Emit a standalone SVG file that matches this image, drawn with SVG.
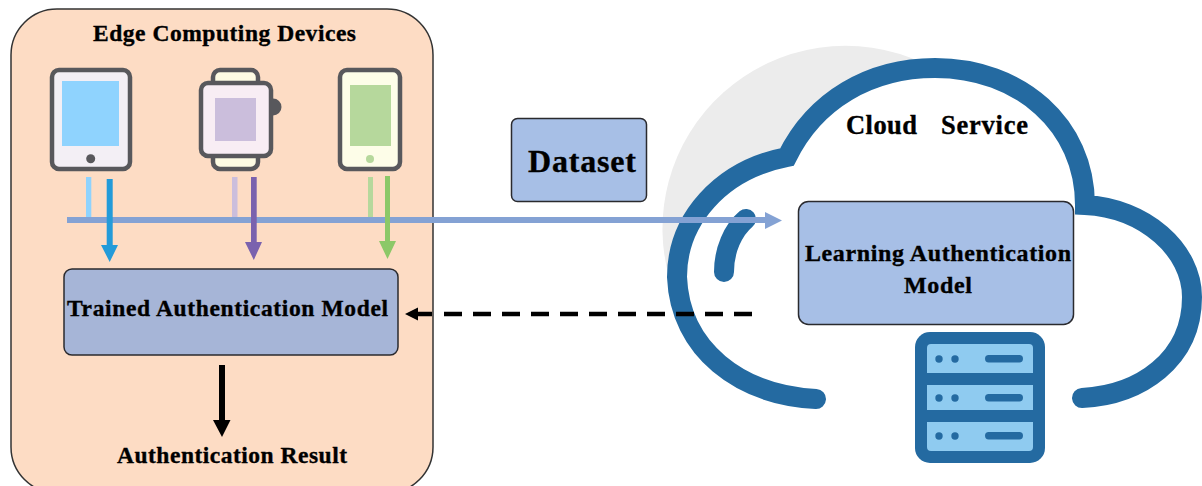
<svg xmlns="http://www.w3.org/2000/svg" width="1202" height="486" viewBox="0 0 1202 486">
<style>
text{font-family:"Liberation Serif","Times New Roman",serif;font-weight:700;fill:#000;stroke:#000;stroke-width:.35;text-anchor:middle}
.dev{stroke:#58585c;stroke-width:4.5}
.box{stroke:#2a2a2e;stroke-width:1.5}
.cl{fill:none;stroke:#246AA1;stroke-width:20}
.rack{fill:#8FCBF0}
.sv{fill:#246AA1}
</style>
<rect width="1202" height="486" fill="#fff"/>
<g id="edge-panel">
<rect x="11" y="9" width="422" height="484" rx="46" fill="#FDDCC4" stroke="#333" stroke-width="1.5"/>
<text x="224.500" y="41" font-size="23.500" textLength="263">Edge Computing Devices</text>
</g>
<g id="tablet">
<rect x="52" y="70" width="78" height="99" rx="7" fill="#F3EFF5" class="dev"/>
<rect x="62" y="81" width="57" height="65" fill="#8FD3FE"/>
<circle cx="90.700" cy="158.700" r="4.500" fill="#58585c"/>
</g>
<g id="watch">
<circle cx="273" cy="107" r="8.500" fill="#58585c"/>
<rect x="213" y="70" width="45" height="99" rx="7" fill="#FDFBE3" class="dev"/>
<rect x="201" y="83" width="70" height="73" rx="7" fill="#F8EDF4" class="dev"/>
<rect x="215" y="98" width="41" height="43" fill="#CBBEDC"/>
</g>
<g id="phone">
<rect x="340" y="70" width="60" height="99" rx="7" fill="#FDFDE8" class="dev"/>
<rect x="350" y="85" width="41" height="61" fill="#B6D89C"/>
<circle cx="370" cy="159" r="4" fill="#B6D89C"/>
</g>
<g id="cloud">
<path d="M923 63A183 183 0 0 0 672 287L800 200Z" fill="#ECECEC"/>
<path d="M816 399C740 395 680 350 677 277C677 220 720 170 787 157C815 100 870 68 935 68C1020 68 1085 125 1085 205C1145 208 1192 250 1192 297C1192 360 1140 395 1082 398Z" fill="#fff"/>
<path d="M816 399C740 395 680 350 677 277C677 220 720 170 787 157C815 100 870 68 935 68C1020 68 1085 125 1085 205C1145 208 1192 250 1192 297C1192 360 1140 395 1082 398" class="cl" stroke-linecap="round" stroke-linejoin="miter" stroke-miterlimit="3"/>
<path d="M746 219C733 230 724 250 724 272" class="cl" stroke-linecap="round"/>
<text font-size="26.500" y="134"><tspan x="881.500" textLength="71">Cloud</tspan><tspan x="984.500" textLength="87">Service</tspan></text>
</g>
<g id="dataset">
<rect x="511.500" y="118.500" width="135" height="83" rx="6" fill="#A7BFE6" class="box"/>
<text x="582" y="172" font-size="32" textLength="108">Dataset</text>
</g>
<g id="learning-model">
<rect x="798.500" y="201.500" width="275" height="123" rx="10" fill="#A7BFE6" class="box"/>
<text x="938" y="261" font-size="24" textLength="266">Learning Authentication</text>
<text x="938" y="293" font-size="24" textLength="68">Model</text>
</g>
<g id="server">
<rect x="915" y="332" width="130" height="131" rx="15" class="sv"/>
<path d="M931 344H1029a4 4 0 0 1 4 4V373H927V348a4 4 0 0 1 4-4Z" class="rack"/>
<rect x="927" y="385" width="106" height="25" class="rack"/>
<path d="M927 422H1033V447a4 4 0 0 1-4 4H931a4 4 0 0 1-4-4Z" class="rack"/>
<g class="sv">
<circle cx="939" cy="359" r="3.700"/><circle cx="955" cy="359" r="3.700"/><rect x="985" y="355" width="38" height="7.500" rx="3.700"/>
<circle cx="939" cy="398" r="3.700"/><circle cx="955" cy="398" r="3.700"/><rect x="985" y="394" width="38" height="7.500" rx="3.700"/>
<circle cx="939" cy="436" r="3.700"/><circle cx="955" cy="436" r="3.700"/><rect x="985" y="432" width="38" height="7.500" rx="3.700"/>
</g>
</g>
<g id="trained-model">
<rect x="64" y="269" width="334" height="86" rx="8" fill="#A6B5D7" class="box"/>
<text x="227.500" y="316" font-size="23.500" textLength="321">Trained Authentication Model</text>
</g>
<g id="auth-result">
<text x="232" y="463" font-size="23.500" textLength="230">Authentication Result</text>
</g>
<g id="connectors">
<rect x="86" y="177" width="5.300" height="41" fill="#8FD3FE"/>
<rect x="232" y="177" width="5.500" height="41" fill="#CBBEDC"/>
<rect x="368" y="177" width="5" height="41" fill="#B6D89C"/>
<path d="M67 217H765V212L782 220.500L765 229V223H67Z" fill="#84A2D4"/>
<path d="M106.700 179H112.700V245H118L109.700 262L101 245H106.700Z" fill="#239BD9"/>
<path d="M251 177H256.700V242H262L253.800 260L245 242H251Z" fill="#7A62AE"/>
<path d="M385 176H390V241H396L387.500 259L379 241H385Z" fill="#8CC868"/>
<path d="M752 314H444" fill="none" stroke="#000" stroke-width="4.500" stroke-dasharray="18 11"/>
<path d="M432 314H416" fill="none" stroke="#000" stroke-width="4.500"/>
<path d="M405 314L418 307.500V320.500Z" fill="#000"/>
<path d="M219 365H225V420H230.500L222 437L213 420H219Z" fill="#000"/>
</g>
</svg>
